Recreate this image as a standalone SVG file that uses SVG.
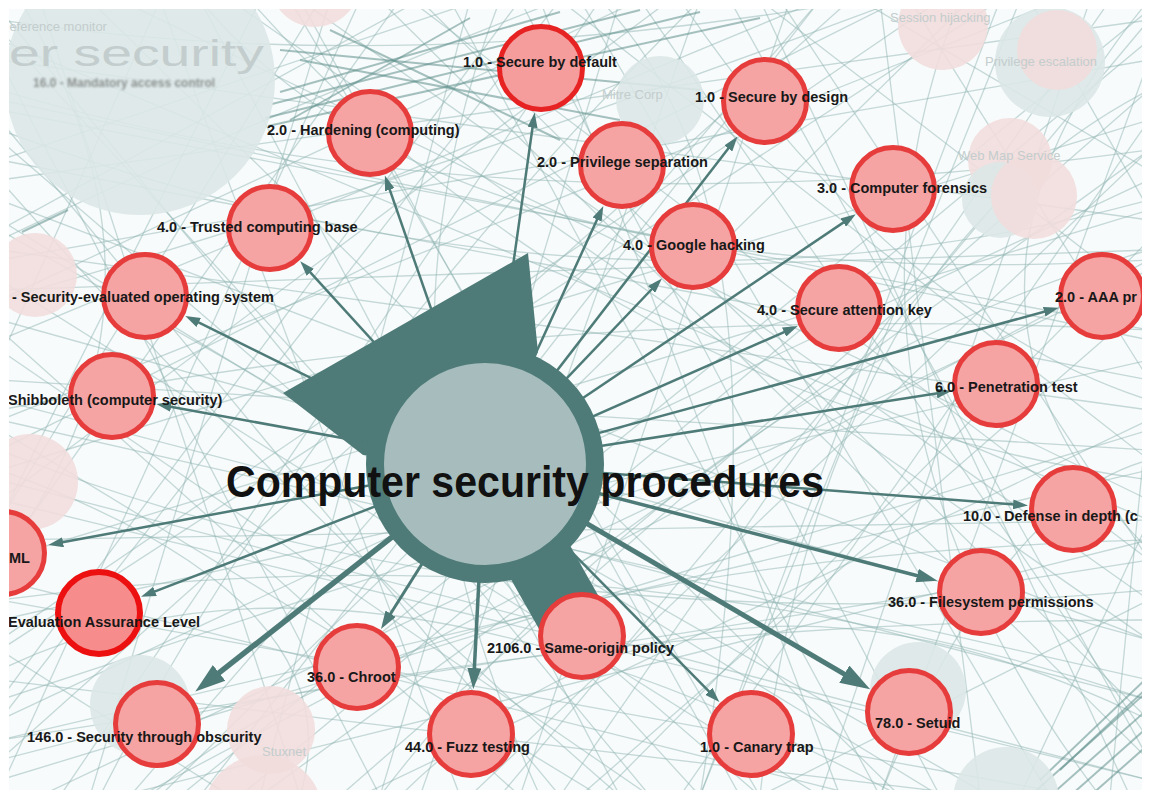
<svg xmlns="http://www.w3.org/2000/svg" width="1149" height="796" viewBox="0 0 1149 796">
<defs>
<style>
.bg path{fill:none;stroke:#8fb5b3;stroke-width:1.3;opacity:.5}
.bg .dk{stroke:#5f8f8c;stroke-width:2;opacity:.55}
.pk{fill:#f2dddd;opacity:.9}
.cy{fill:#dbe7e7;opacity:.9}
.gt{font-family:'Liberation Sans',Arial,sans-serif;fill:#c3cdcd}
.edge{fill:none;stroke:#4e7b78;marker-end:url(#ah)}
.node circle{fill:#f5a3a3;stroke:#e63c3c;stroke-width:5}
.node text{font-family:'Liberation Sans',Arial,sans-serif;font-weight:bold;font-size:14.5px;fill:#181818}
</style>
<marker id="ah" viewBox="0 0 12 8" refX="6" refY="4" markerWidth="6" markerHeight="4" markerUnits="strokeWidth" orient="auto">
<path d="M0,0 L12,4 L0,8 z" fill="#4e7b78"/>
</marker>
<marker id="ahw" viewBox="0 0 12 8" refX="6" refY="4" markerWidth="5.5" markerHeight="5.5" markerUnits="strokeWidth" orient="auto">
<path d="M0,0 L12,4 L0,8 z" fill="#4e7b78"/>
</marker>
<clipPath id="frame"><rect x="9" y="9" width="1133" height="781"/></clipPath>
<filter id="soft"><feGaussianBlur stdDeviation="0.8"/></filter>
</defs>
<rect width="1149" height="796" fill="#fff"/>
<g clip-path="url(#frame)">
<rect x="9" y="9" width="1133" height="781" fill="#f8fbfb"/>
<!-- background mesh of the wider graph -->
<g class="bg">
<path d="M40,0 L300,796"/><path d="M120,0 L1149,500"/><path d="M200,0 L620,796"/><path d="M260,0 L0,520"/>
<path d="M330,0 L90,796"/><path d="M380,0 L1149,760"/><path d="M450,0 L880,796"/><path d="M520,0 L0,700"/>
<path d="M580,0 L1050,796"/><path d="M640,0 L0,300"/><path d="M700,0 L420,796"/><path d="M760,0 L1149,300"/>
<path d="M820,0 L200,796"/><path d="M880,0 L980,796"/><path d="M940,0 L0,640"/><path d="M1000,0 L700,796"/>
<path d="M1060,0 L0,420"/><path d="M1110,0 L560,796"/><path d="M0,60 L1149,220"/><path d="M0,140 L760,796"/>
<path d="M0,200 L1149,640"/><path d="M0,260 L1149,60"/><path d="M0,330 L520,796"/><path d="M0,380 L1149,450"/>
<path d="M0,450 L900,0"/><path d="M0,500 L1149,780"/><path d="M0,560 L400,0"/><path d="M0,620 L1149,360"/>
<path d="M0,680 L980,796"/><path d="M0,740 L1149,560"/><path d="M1149,40 L240,796"/><path d="M1149,120 L680,796"/>
<path d="M1149,180 L0,720"/><path d="M1149,260 L140,796"/><path d="M1149,340 L0,100"/><path d="M1149,420 L360,796"/>
<path d="M1149,520 L0,40"/><path d="M1149,600 L300,0"/><path d="M1149,680 L0,420"/><path d="M1149,740 L640,0"/>
<path d="M60,796 L600,0"/><path d="M180,796 L1149,10"/><path d="M340,796 L1149,90"/><path d="M460,796 L160,0"/>
<path d="M560,796 L0,120"/><path d="M700,796 L1020,0"/><path d="M820,796 L0,280"/><path d="M940,796 L520,0"/>
<path d="M1080,796 L0,600"/><path d="M1130,796 L760,0"/>
<path d="M0,90 Q500,240 1149,150"/><path d="M0,300 Q420,180 900,0"/><path d="M100,796 Q300,400 700,0"/>
<path d="M0,600 Q600,520 1149,700"/><path d="M250,0 Q600,400 1149,480"/><path d="M0,760 Q520,620 1149,620"/>
<path d="M960,0 Q800,400 1100,796"/><path d="M0,180 Q300,520 620,796"/><path d="M1149,250 Q700,380 380,796"/>
<path d="M500,0 Q350,380 540,796"/><path d="M0,410 Q560,300 1149,330"/><path d="M680,0 Q900,320 1149,400"/>
<path d="M0,20 Q400,80 860,0"/><path d="M150,796 Q420,560 1149,540"/><path d="M1149,90 Q820,260 760,796"/>
<path d="M20,0 Q200,300 0,560"/><path d="M880,796 Q1000,500 1149,460"/><path d="M300,796 Q360,600 0,470"/>
<path d="M860,0 L1149,170"/><path d="M0,520 L320,0"/><path d="M230,796 L0,650"/><path d="M1149,560 L780,0"/>
<path d="M420,0 L0,230"/><path d="M600,796 L1149,240"/><path d="M760,796 L1149,600"/><path d="M0,350 L650,796"/>
<path d="M1020,796 L1149,520"/><path d="M540,0 L840,796"/><path d="M0,250 L1149,410"/><path d="M0,700 L700,470"/>
<path d="M0,30 L700,796"/><path d="M0,110 L1149,330"/><path d="M0,160 L480,0"/><path d="M0,220 L940,796"/>
<path d="M0,290 L1149,250"/><path d="M0,340 L820,0"/><path d="M0,400 L1149,700"/><path d="M0,430 L600,796"/>
<path d="M0,470 L1149,120"/><path d="M0,540 L1149,520"/><path d="M0,580 L860,796"/><path d="M0,650 L1000,0"/>
<path d="M0,720 L560,0"/><path d="M0,780 L1149,430"/><path d="M90,0 L900,796"/><path d="M160,0 L0,360"/>
<path d="M230,0 L1149,640"/><path d="M290,0 L760,796"/><path d="M360,0 L0,790"/><path d="M410,0 L1149,560"/>
<path d="M470,0 L260,796"/><path d="M560,0 L1149,460"/><path d="M620,0 L380,796"/><path d="M670,0 L0,500"/>
<path d="M730,0 L1149,760"/><path d="M790,0 L520,796"/><path d="M850,0 L0,760"/><path d="M910,0 L1149,380"/>
<path d="M970,0 L160,796"/><path d="M1030,0 L1149,210"/><path d="M1090,0 L820,796"/><path d="M1149,20 L0,180"/>
<path d="M1149,150 L470,796"/><path d="M1149,210 L0,560"/><path d="M1149,300 L580,796"/><path d="M1149,380 L0,160"/>
<path d="M1149,470 L0,740"/><path d="M1149,540 L120,796"/><path d="M1149,640 L0,320"/><path d="M1149,720 L420,0"/>
<path d="M1149,780 L0,480"/><path d="M40,796 L1149,270"/><path d="M130,796 L820,0"/><path d="M260,796 L1149,150"/>
<path d="M380,796 L0,60"/><path d="M500,796 L1149,20"/><path d="M650,796 L0,10"/><path d="M740,796 L300,0"/>
<path d="M880,796 L1149,60"/><path d="M990,796 L0,230"/><path d="M1110,796 L1149,400"/>
<path d="M0,130 Q600,350 1149,200"/><path d="M0,450 Q500,650 1149,590"/><path d="M200,0 Q450,300 1149,260"/>
<path d="M0,670 Q350,500 900,796"/><path d="M400,796 Q700,500 1149,720"/><path d="M1149,0 Q900,300 1149,550"/>
<path d="M600,0 Q800,200 700,796"/><path d="M0,240 Q250,120 560,0"/>
<!-- denser strands near the top and the lower right corner -->
<path class="dk" d="M265,118 L700,12"/><path class="dk" d="M272,104 L640,10"/><path class="dk" d="M280,92 L560,12"/>
<path class="dk" d="M268,126 L760,18"/><path class="dk" d="M290,120 L470,18"/><path class="dk" d="M300,60 L620,120"/>
<path class="dk" d="M330,30 L560,140"/><path class="dk" d="M280,50 L700,90"/>
<path class="dk" d="M22,232 L68,210"/><path class="dk" d="M1030,796 L1149,690"/><path class="dk" d="M1050,796 L1149,708"/>
<path class="dk" d="M1070,796 L1149,726"/><path class="dk" d="M1090,796 L1149,744"/><path class="dk" d="M1040,780 L1149,676"/>
<path class="dk" d="M1060,770 L1149,686"/>
</g>
<!-- faded nodes of the wider graph -->
<g>
<circle class="cy" cx="140" cy="80" r="135"/>
<circle class="pk" cx="315" cy="-18" r="45"/>
<circle class="cy" cx="660" cy="100" r="44"/>
<circle class="pk" cx="943" cy="25" r="45"/>
<circle class="cy" cx="1050" cy="62" r="55"/>
<circle class="pk" cx="1057" cy="50" r="40"/>
<circle class="pk" cx="1010" cy="160" r="42"/>
<circle class="cy" cx="1000" cy="200" r="38"/>
<circle class="pk" cx="1034" cy="196" r="43"/>
<circle class="pk" cx="35" cy="275" r="42"/>
<circle class="pk" cx="30" cy="482" r="48"/>
<circle class="cy" cx="140" cy="705" r="50"/>
<circle class="pk" cx="271" cy="730" r="44"/>
<circle class="pk" cx="263" cy="815" r="60"/>
<circle class="cy" cx="918" cy="690" r="48"/>
<circle class="cy" cx="1006" cy="800" r="53"/>
<text class="gt" x="0" y="31" font-size="13">Reference monitor</text>
<text class="gt" x="9" y="66" font-size="37" textLength="255" lengthAdjust="spacingAndGlyphs" fill="#ccd5d5">er security</text>
<text x="33" y="87" font-family="'Liberation Sans',Arial,sans-serif" font-weight="bold" font-size="12" fill="#555" opacity=".6" filter="url(#soft)">16.0 - Mandatory access control</text>
<text class="gt" x="602" y="99" font-size="13">Mitre Corp</text>
<text class="gt" x="890" y="22" font-size="13">Session hijacking</text>
<text class="gt" x="985" y="66" font-size="13">Privilege escalation</text>
<text class="gt" x="958" y="160" font-size="13">Web Map Service</text>
<text class="gt" x="262" y="756" font-size="13">Stuxnet</text>
</g>
<!-- connectors -->
<g id="connectors">
<polygon points="283,393 528,253 538,352 485,464 363,455" fill="#4e7b78"/>
<line x1="485" y1="464" x2="582" y2="636" stroke="#4e7b78" stroke-width="68"/>
<path class="edge" stroke-width="2.5" d="M485,464 L533.6,120"/>
<path class="edge" stroke-width="2.5" d="M485,464 L732.9,142.5"/>
<path class="edge" stroke-width="2.5" d="M485,464 L600.2,212.7"/>
<path class="edge" stroke-width="2.5" d="M485,464 L656.7,284"/>
<path class="edge" stroke-width="2.5" d="M485,464 L849.5,218.4"/>
<path class="edge" stroke-width="2.5" d="M485,464 L790.9,329.1"/>
<path class="edge" stroke-width="2.5" d="M485,464 L1051.4,309.8"/>
<path class="edge" stroke-width="2.5" d="M485,464 L944.1,392.2"/>
<path class="edge" stroke-width="2.5" d="M485,464 L1020.6,505"/>
<path class="edge" stroke-width="3.5" d="M485,464 L927.2,578.2"/>
<path class="edge" stroke-width="5" d="M485,464 L857.2,681.7"/>
<path class="edge" stroke-width="2.5" d="M485,464 L714.1,696.6"/>
<path class="edge" stroke-width="3.5" d="M485,464 L473.8,678.6"/>
<path class="edge" stroke-width="3" d="M485,464 L385.8,621.3"/>
<path class="edge" stroke-width="5.5" d="M485,464 L207.2,682.2" style="marker-end:url(#ahw)"/>
<path class="edge" stroke-width="2.5" d="M485,464 L148,594.1"/>
<path class="edge" stroke-width="2.5" d="M485,464 L55.7,543.6"/>
<path class="edge" stroke-width="2.5" d="M485,464 L163.7,405.4"/>
<path class="edge" stroke-width="2.5" d="M485,464 L192,319.2"/>
<path class="edge" stroke-width="2.5" d="M485,464 L305.3,266.8"/>
<path class="edge" stroke-width="2.5" d="M485,464 L387.3,182.6"/>
</g>
<!-- central node -->
<g id="n-center">
<circle cx="485" cy="464" r="110" fill="#a7bdbd" stroke="#4e7b78" stroke-width="18"/>
<text x="525" y="497" text-anchor="middle" font-family="'Liberation Sans',Arial,sans-serif" font-weight="bold" font-size="44" textLength="598" lengthAdjust="spacingAndGlyphs" fill="#111">Computer security procedures</text>
</g>
<g id="n-secure-default" class="node"><circle cx="541" cy="68" r="41.5" style="stroke:#e62222;fill:#f59c9c"/><text x="463" y="67">1.0 - Secure by default</text></g>
<g id="n-secure-design" class="node"><circle cx="765" cy="101" r="41.5"/><text x="695" y="102">1.0 - Secure by design</text></g>
<g id="n-privilege" class="node"><circle cx="622" cy="165" r="41.5"/><text x="537" y="167">2.0 - Privilege separation</text></g>
<g id="n-google" class="node"><circle cx="693" cy="246" r="41.5"/><text x="623" y="250">4.0 - Google hacking</text></g>
<g id="n-hardening" class="node"><circle cx="370" cy="133" r="41.5"/><text x="267" y="135">2.0 - Hardening (computing)</text></g>
<g id="n-tcb" class="node"><circle cx="270" cy="228" r="41.5"/><text x="157" y="232">4.0 - Trusted computing base</text></g>
<g id="n-forensics" class="node"><circle cx="893" cy="189" r="41.5"/><text x="817" y="193">3.0 - Computer forensics</text></g>
<g id="n-seos" class="node"><circle cx="145" cy="296" r="41.5"/><text x="12" y="302">- Security-evaluated operating system</text></g>
<g id="n-shibboleth" class="node"><circle cx="112" cy="396" r="41.5"/><text x="8" y="405">Shibboleth (computer security)</text></g>
<g id="n-ml" class="node"><circle cx="3" cy="553" r="41.5"/><text x="9" y="563">ML</text></g>
<g id="n-eal" class="node"><circle cx="99" cy="613" r="41" style="stroke:#ec1010;stroke-width:6;fill:#f78c8c"/><text x="8" y="627">Evaluation Assurance Level</text></g>
<g id="n-obscurity" class="node"><circle cx="157" cy="724" r="41.5"/><text x="27" y="742">146.0 - Security through obscurity</text></g>
<g id="n-chroot" class="node"><circle cx="357" cy="667" r="41.5"/><text x="307" y="682">36.0 - Chroot</text></g>
<g id="n-fuzz" class="node"><circle cx="471" cy="734" r="41.5"/><text x="405" y="752">44.0 - Fuzz testing</text></g>
<g id="n-sop" class="node"><circle cx="582" cy="636" r="41.5"/><text x="487" y="653">2106.0 - Same-origin policy</text></g>
<g id="n-canary" class="node"><circle cx="751" cy="734" r="41.5"/><text x="700" y="752">1.0 - Canary trap</text></g>
<g id="n-fsperm" class="node"><circle cx="981" cy="592" r="41.5"/><text x="888" y="607">36.0 - Filesystem permissions</text></g>
<g id="n-setuid" class="node"><circle cx="909" cy="712" r="41.5"/><text x="875" y="728">78.0 - Setuid</text></g>
<g id="n-sak" class="node"><circle cx="839" cy="308" r="41.5"/><text x="757" y="315">4.0 - Secure attention key</text></g>
<g id="n-aaa" class="node"><circle cx="1102" cy="296" r="41.5"/><text x="1055" y="302">2.0 - AAA pr</text></g>
<g id="n-pentest" class="node"><circle cx="996" cy="384" r="41.5"/><text x="935" y="392">6.0 - Penetration test</text></g>
<g id="n-defense" class="node"><circle cx="1073" cy="509" r="41.5"/><text x="963" y="521">10.0 - Defense in depth (c</text></g>
</g>
</svg>
